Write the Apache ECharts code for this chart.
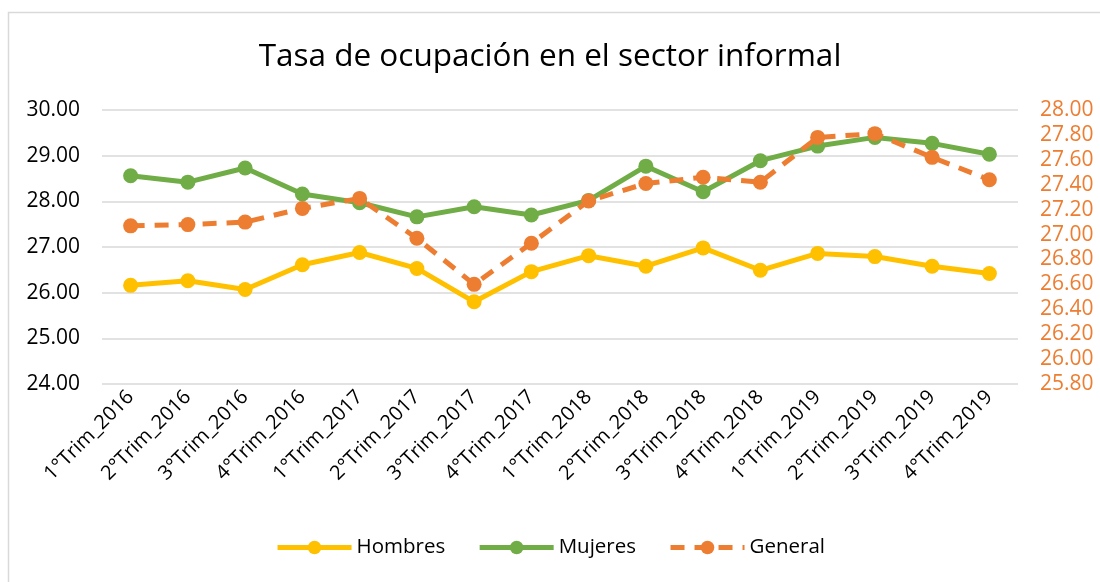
<!DOCTYPE html>
<html>
<head>
<meta charset="utf-8">
<script src="https://cdn.jsdelivr.net/npm/echarts@6/dist/echarts.min.js"></script>
<style>
  html, body { margin: 0; padding: 0; background: #fff; }
  #chart { width: 1100px; height: 582px; }
</style>
</head>
<body>
<div id="chart"></div>
<script>
// trimestres
const categories = [
  "1°Trim_2016", "2°Trim_2016", "3°Trim_2016", "4°Trim_2016",
  "1°Trim_2017", "2°Trim_2017", "3°Trim_2017", "4°Trim_2017",
  "1°Trim_2018", "2°Trim_2018", "3°Trim_2018", "4°Trim_2018",
  "1°Trim_2019", "2°Trim_2019", "3°Trim_2019", "4°Trim_2019"
];
// eje izquierdo
const hombres = [26.16, 26.26, 26.07, 26.61, 26.88, 26.53, 25.80, 26.46,
  26.81, 26.58, 26.98, 26.49, 26.86, 26.79, 26.58, 26.42];
const mujeres = [28.56, 28.42, 28.73, 28.16, 27.97, 27.66, 27.88, 27.70,
  28.02, 28.77, 28.21, 28.89, 29.21, 29.40, 29.27, 29.03];
// eje derecho
const general = [27.07, 27.08, 27.10, 27.21, 27.29, 26.97, 26.60, 26.93,
  27.27, 27.41, 27.46, 27.42, 27.78, 27.81, 27.62, 27.44];

const leftTicks = { min: 24, max: 30, interval: 1 };
const rightTicks = { min: 25.8, max: 28, interval: 0.2 };

const FONT = "Open Sans";
const chart = echarts.init(document.getElementById("chart"));

function lineSeries(name, data, color, yAxisIndex, dashed) {
  return {
    name: name,
    type: "line",
    yAxisIndex: yAxisIndex,
    data: data,
    symbol: "circle",
    symbolSize: 15,
    lineStyle: { color: color, width: 5, type: dashed ? [14, 10] : "solid" },
    itemStyle: { color: color },
    z: dashed ? 3 : 2
  };
}

chart.setOption({
  animation: false,
  textStyle: { fontFamily: FONT },
  graphic: [{
    type: "rect",
    shape: { x: 8.5, y: 12.5, width: 1200, height: 700 },
    style: { fill: "none", stroke: "#d9d9d9", lineWidth: 1.5 },
    silent: true
  }],
  title: {
    text: "Tasa de ocupación en el sector informal",
    left: "center",
    top: 36,
    textStyle: { fontFamily: FONT, fontSize: 31.5, fontWeight: "normal", color: "#000" }
  },
  legend: {
    bottom: 19,
    left: "center",
    itemWidth: 74,
    itemHeight: 17,
    itemGap: 32,
    lineStyle: { width: 5 },
    textStyle: { fontFamily: FONT, fontSize: 20.5, color: "#000" },
    data: ["Hombres", "Mujeres", "General"]
  },
  grid: { left: 102, right: 82, top: 110, bottom: 198 },
  xAxis: {
    type: "category",
    data: categories,
    axisLine: { show: false },
    axisTick: { show: false },
    axisLabel: {
      rotate: 45,
      interval: 0,
      fontFamily: FONT,
      fontSize: 20,
      color: "#000",
      margin: 10
    }
  },
  yAxis: [
    {
      type: "value",
      min: leftTicks.min,
      max: leftTicks.max,
      interval: leftTicks.interval,
      axisLine: { show: false },
      axisTick: { show: false },
      splitLine: { lineStyle: { color: "#d9d9d9", width: 1.5 } },
      axisLabel: {
        fontFamily: FONT, fontSize: 21, color: "#000", margin: 22,
        formatter: v => v.toFixed(2)
      }
    },
    {
      type: "value",
      min: rightTicks.min,
      max: rightTicks.max,
      interval: rightTicks.interval,
      axisLine: { show: false },
      axisTick: { show: false },
      splitLine: { show: false },
      axisLabel: {
        fontFamily: FONT, fontSize: 21, color: "#ED7D31", margin: 22,
        formatter: v => v.toFixed(2)
      }
    }
  ],
  series: [
    lineSeries("Hombres", hombres, "#FFC000", 0, false),
    lineSeries("Mujeres", mujeres, "#70AD47", 0, false),
    lineSeries("General", general, "#ED7D31", 1, true)
  ]
});
</script>
</body>
</html>
